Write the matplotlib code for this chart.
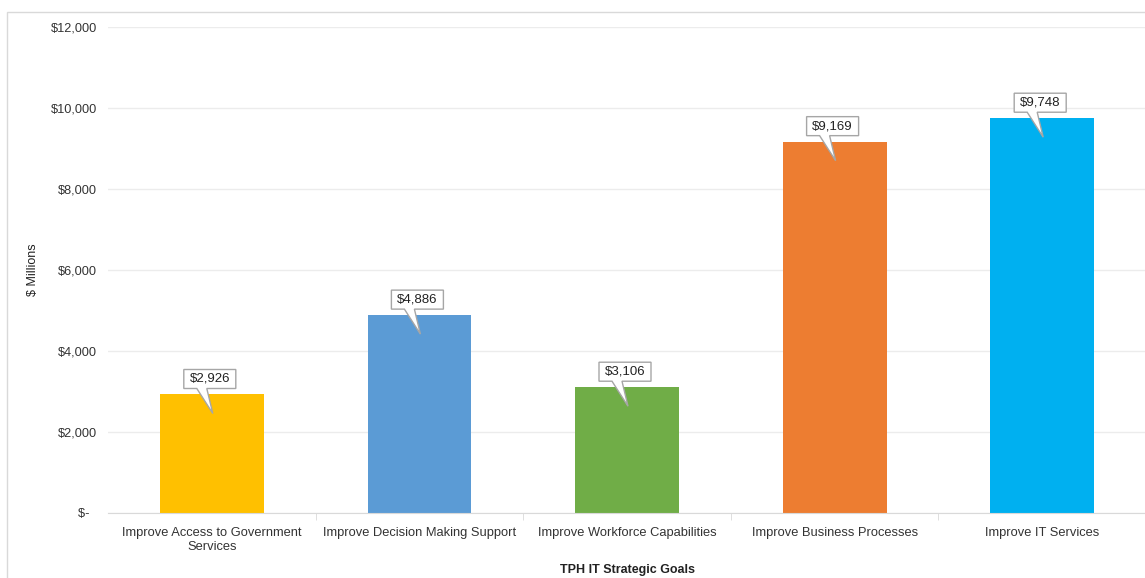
import matplotlib
matplotlib.use("Agg")
import matplotlib.pyplot as plt
import matplotlib.transforms as mtransforms
from matplotlib.patches import Polygon, Rectangle
from matplotlib.ticker import FuncFormatter

categories = ["Improve Access to Government\nServices", "Improve Decision Making Support",
              "Improve Workforce Capabilities", "Improve Business Processes", "Improve IT Services"]
values = [2926, 4886, 3106, 9169, 9748]
colors = ["#FFC000", "#5B9BD5", "#70AD47", "#ED7D31", "#00B0F0"]
yticks = [0, 2000, 4000, 6000, 8000, 10000, 12000]

plt.rcParams['font.family'] = ['Liberation Sans', 'DejaVu Sans']

W, H = 1145, 578
fig = plt.figure(figsize=(W / 100, H / 100), dpi=100)
ax_l, ax_r, ax_b, ax_t = 108, 1146, 513, 27
ax = fig.add_axes([ax_l / W, 1 - ax_b / H, (ax_r - ax_l) / W, (ax_b - ax_t) / H])

x = list(range(len(categories)))
ax.bar(x, values, width=0.5, color=colors, zorder=2)
ax.set_xlim(-0.5, len(categories) - 0.5)
ax.set_ylim(0, 12000)
ax.set_yticks(yticks)
ax.yaxis.set_major_formatter(FuncFormatter(lambda v, p: "$-  " if v == 0 else f"${v:,.0f}"))
ax.grid(axis='y', color='#ececec', linewidth=1, zorder=0)
ax.set_axisbelow(True)
for s in ['top', 'right', 'left']:
    ax.spines[s].set_visible(False)
ax.spines['bottom'].set_color('#d9d9d9')
ax.tick_params(axis='y', length=0, labelsize=9.2, pad=8, colors='#333333')
ax.set_xticks(x)
ax.set_xticklabels(categories)
ax.tick_params(axis='x', which='major', length=0, labelsize=9.3, pad=10, colors='#333333')
ax.set_xticks([i + 0.5 for i in x[:-1]], minor=True)
ax.tick_params(axis='x', which='minor', length=5, color='#d9d9d9')
ax.set_xlabel("TPH IT Strategic Goals", fontsize=9, fontweight='bold', color='#222222', va='center')
ax.xaxis.set_label_coords(0.5, (ax_b - 570) / (ax_b - ax_t))
ax.set_ylabel("$ Millions", fontsize=9, color='#222222', va='center')
ax.yaxis.set_label_coords((33 - ax_l) / (ax_r - ax_l), 1 - (270 - ax_t) / (ax_b - ax_t))

# callouts (vertices in inches relative to bar top)
px = 1 / 100.0
for xi, v in zip(x, values):
    trans = fig.dpi_scale_trans + mtransforms.ScaledTranslation(xi, v, ax.transData)
    bw, bh, gap = 52, 19, 6
    left, right = -bw / 2 - 2, bw / 2 - 2
    bottom, top = gap, gap + bh
    verts = [(left, bottom), (-15, bottom), (1, -19), (-5, bottom), (right, bottom),
             (right, top), (left, top)]
    verts = [(a * px, b * px) for a, b in verts]
    poly = Polygon(verts, closed=True, facecolor='white', edgecolor='#a6a6a6',
                   linewidth=1, transform=trans, zorder=4)
    ax.add_patch(poly)
    ax.text(-2 * px, (gap + bh / 2) * px, f"${v:,.0f}", transform=trans, ha='center',
            va='center', fontsize=9.5, color='#222222', zorder=5)

fig.patches.append(Rectangle((7 / W, -0.1), 1.2, 1 - 12 / H + 0.1, transform=fig.transFigure,
                             fill=False, edgecolor='#d9d9d9', linewidth=1))

fig.savefig("out.png", dpi=100)
